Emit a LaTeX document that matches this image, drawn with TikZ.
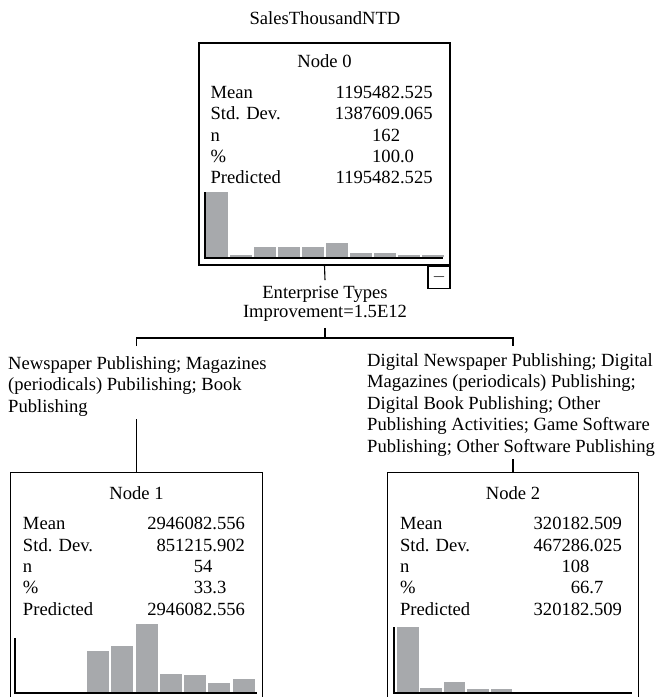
\documentclass[tikz,border=0pt]{standalone}
\usepackage{fontspec}
\setmainfont{Liberation Serif}
\definecolor{bargray}{RGB}{167,169,172}

\begin{document}
\begin{tikzpicture}[x=1pt, y=-1pt,
  font=\fontsize{18.6}{21.5}\selectfont,
  box/.style={minimum width=251pt, minimum height=222pt, inner sep=0pt},
  frame/.style={line width=1.2pt},
  stats/.style={anchor=base west, inner sep=0pt, font=\fontsize{18.6}{21.3}\selectfont},
  branch/.style={align=left, inner xsep=0pt, inner ysep=3pt, anchor=north west},
  bar/.style={fill=bargray},
  axis/.style={line width=1.6pt},
  link/.style={line width=1.1pt}]
\useasboundingbox (0,0) rectangle (656,697);

\node (target) at (325,18) {SalesThousandNTD};

% root node
\node [box, draw, frame] (node0) at (324.5,154) {};
\node [anchor=base] (title0) at ([yshift=-25]node0.north) {Node 0};
\node [stats] (stats0) at ([xshift=12,yshift=-56]node0.north west) {
\begin{tabular*}{222pt}[t]{@{}l@{\extracolsep{\fill}}r@{}}
Mean      & 1195482.525 \\
Std. Dev. & 1387609.065 \\
n         & 162\phantom{.000} \\
\%        & 100.0\phantom{00} \\
Predicted & 1195482.525
\end{tabular*}
};
\foreach \h [count=\i from 0] in {65,2,10,10,10,14,4,4,2,2}
  \fill [bar] (206+24*\i,256.5) rectangle ++(22,-\h);
\draw [axis] (205,192) |- (443,258);
\node [draw, frame, minimum size=22pt, inner sep=0pt, text height=9.3pt, text depth=0pt,
  anchor=north east] (collapse0) at (node0.south east) {$-$};

% split
\node [align=center, inner sep=6pt, font=\fontsize{18.6}{19}\selectfont] (split0) at (325,304) {Enterprise Types\\Improvement=1.5E12};
\coordinate (fork) at (325,338);
\coordinate (left) at (136.5,346);
\coordinate (right) at (513,346);
\draw [link] (node0.south) -- (split0.north);
\draw [link] (split0.south) -- (fork);
\draw [link] (left) |- (fork) -| (right);

\node [branch] (branch1) at (8,353) {Newspaper Publishing; Magazines\\(periodicals) Pubilishing; Book\\Publishing};
\node [branch] (branch2) at (367,350) {Digital Newspaper Publishing; Digital\\Magazines (periodicals) Publishing;\\Digital Book Publishing; Other\\Publishing Activities; Game Software\\Publishing; Other Software Publishing};

% left child
\node [box, minimum height=224pt] (node1) at (136.5,585) {};
\draw [frame] (node1.south west) |- (node1.north) -| (node1.south east);
\draw [link] (node1.north |- branch1.south) -- (node1.north);
\node [anchor=base] (title1) at ([yshift=-27]node1.north) {Node 1};
\node [stats] (stats1) at ([xshift=12,yshift=-57]node1.north west) {
\begin{tabular*}{222pt}[t]{@{}l@{\extracolsep{\fill}}r@{}}
Mean      & 2946082.556 \\
Std. Dev. & 851215.902 \\
n         & 54\phantom{.000} \\
\%        & 33.3\phantom{00} \\
Predicted & 2946082.556
\end{tabular*}
};
\foreach \h [count=\i from 0] in {0,0,0,41,46,68,18,17,9,13}
  \fill [bar] (14+24.3*\i,691.5) rectangle ++(22,-\h);
\draw [axis] (15,638) |- (257,693);

% right child
\node [box, minimum width=250pt, minimum height=224pt] (node2) at (513,585) {};
\draw [frame] (node2.south west) |- (node2.north) -| (node2.south east);
\draw [link] (node2.north |- branch2.south) -- (node2.north);
\node [anchor=base] (title2) at ([yshift=-27]node2.north) {Node 2};
\node [stats] (stats2) at ([xshift=12,yshift=-57]node2.north west) {
\begin{tabular*}{222pt}[t]{@{}l@{\extracolsep{\fill}}r@{}}
Mean      & 320182.509 \\
Std. Dev. & 467286.025 \\
n         & 108\phantom{.000} \\
\%        & 66.7\phantom{00} \\
Predicted & 320182.509
\end{tabular*}
};
\foreach \h [count=\i from 0] in {65,4,10,3,3,0,0,0,0,0}
  \fill [bar] (397+23.4*\i,691.5) rectangle ++(21.5,-\h);
\draw [axis] (394,627) |- (632,693);
\end{tikzpicture}
\end{document}
